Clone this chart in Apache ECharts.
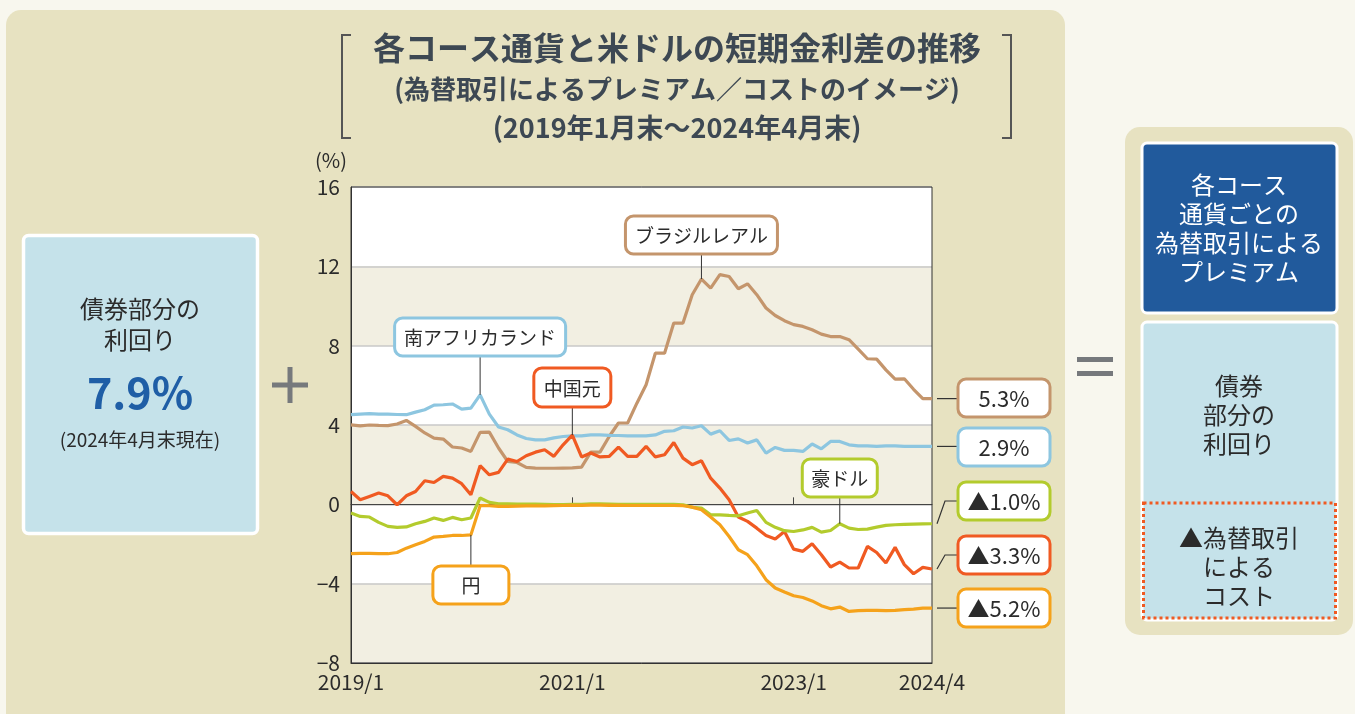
<!DOCTYPE html>
<html><head><meta charset="utf-8">
<script src="https://cdn.jsdelivr.net/npm/echarts@6/dist/echarts.min.js"></script>
<style>html,body{margin:0;padding:0;background:#f8f7ee}#c{width:1355px;height:714px}</style>
</head><body><div id="c"></div>
<script>
// ---------- data ----------
const months = [];
for (let y = 2019; y <= 2024; y++) for (let m = 1; m <= 12; m++) { if (y === 2024 && m > 4) break; months.push(y + '/' + m); }
const tickLabels = ['2019/1', '2021/1', '2023/1', '2024/4'];
const zeroTickLabels = ['2021/1', '2023/1'];
const yMin = -8, yMax = 16, yStep = 4;

const brazil = [4.01,3.96,4.0,3.98,3.97,4.05,4.23,3.93,3.6,3.34,3.29,2.89,2.84,2.67,3.63,3.64,2.84,2.16,2.11,1.86,1.83,1.82,1.82,1.83,1.84,1.88,2.63,2.63,3.42,4.1,4.1,5.1,6.03,7.62,7.62,9.14,9.14,10.57,11.36,10.9,11.58,11.49,10.87,11.12,10.57,9.9,9.52,9.26,9.06,8.97,8.8,8.58,8.46,8.46,8.3,7.83,7.34,7.32,6.78,6.31,6.33,5.8,5.33,5.33];
const southAfrica = [4.52,4.55,4.57,4.55,4.55,4.53,4.52,4.65,4.77,5.0,5.02,5.06,4.8,4.85,5.52,4.55,3.9,3.76,3.5,3.32,3.25,3.25,3.35,3.42,3.45,3.45,3.5,3.5,3.48,3.47,3.45,3.45,3.45,3.5,3.68,3.71,3.9,3.85,3.96,3.54,3.71,3.22,3.3,3.09,3.25,2.58,2.87,2.72,2.72,2.67,3.04,2.8,3.17,3.17,3.0,2.95,2.95,2.92,2.95,2.95,2.92,2.92,2.92,2.92];
const china = [0.65,0.23,0.4,0.57,0.43,-0.02,0.43,0.65,1.19,1.1,1.41,1.32,1.04,0.48,1.95,1.49,1.61,2.28,2.16,2.45,2.63,2.75,2.42,3.0,3.49,2.39,2.59,2.39,2.42,2.89,2.42,2.42,2.92,2.39,2.5,3.12,2.33,2.0,2.2,1.32,0.82,0.23,-0.64,-0.86,-1.2,-1.57,-1.75,-1.37,-2.26,-2.37,-1.99,-2.54,-3.16,-2.91,-3.21,-3.21,-2.12,-2.43,-2.96,-2.17,-3.04,-3.5,-3.18,-3.26];
const australia = [-0.44,-0.61,-0.64,-0.91,-1.11,-1.16,-1.14,-0.98,-0.86,-0.69,-0.81,-0.66,-0.78,-0.69,0.32,0.1,0.02,0.02,0.01,0.01,0.01,0.0,-0.01,-0.01,0.0,0.0,0.02,0.02,0.01,0.0,0.0,0.0,0.0,0.0,0.0,0.0,-0.02,-0.15,-0.19,-0.53,-0.53,-0.56,-0.58,-0.44,-0.31,-0.91,-1.16,-1.33,-1.37,-1.29,-1.16,-1.4,-1.32,-0.98,-1.2,-1.27,-1.25,-1.15,-1.06,-1.03,-1.01,-1.0,-0.99,-0.98];
const japan = [-2.49,-2.47,-2.47,-2.49,-2.49,-2.43,-2.21,-2.04,-1.87,-1.65,-1.62,-1.57,-1.57,-1.54,-0.07,-0.07,-0.1,-0.1,-0.09,-0.08,-0.08,-0.08,-0.07,-0.06,-0.05,-0.05,-0.04,-0.04,-0.05,-0.05,-0.06,-0.06,-0.06,-0.06,-0.06,-0.06,-0.07,-0.14,-0.27,-0.64,-1.03,-1.62,-2.29,-2.54,-3.1,-3.8,-4.22,-4.42,-4.61,-4.7,-4.87,-5.11,-5.27,-5.18,-5.4,-5.36,-5.35,-5.35,-5.36,-5.35,-5.31,-5.28,-5.23,-5.23];

const seriesNames = ['ブラジルレアル', '南アフリカランド', '中国元', '豪ドル', '円'];
const seriesData = [brazil, southAfrica, china, australia, japan];
const endLabels = ['5.3%', '2.9%', '▲3.3%', '▲1.0%', '▲5.2%'];
const calloutIndex = [38, 14, 24, 53, 13];

// ---------- styles / layout ----------
const colors = ['#c4956c', '#8dc6e0', '#f05a22', '#b3cb2d', '#f5a21b'];
const FONT = '"Noto Sans CJK JP", "Noto Sans", sans-serif';
const TXT = '#2b2b2b';
const calloutLayout = [
  { y: 216, w: 152, h: 38, above: true },
  { y: 318, w: 171, h: 38, above: true },
  { y: 368, w: 77, h: 39, above: true },
  { y: 459, w: 75, h: 38, above: true },
  { y: 566, w: 76, h: 38, above: false }
];
const endBoxX = 958, endBoxW = 92, endBoxH = 38;
const endBoxCY = [398, 447, 555, 501, 608];

const chart = echarts.init(document.getElementById('c'), null, { renderer: 'canvas' });

const option = {
  backgroundColor: '#f8f7ee',
  animation: false,
  grid: { left: 351, top: 187, width: 581, height: 476, show: true, borderColor: '#333', borderWidth: 1, backgroundColor: 'transparent', z: 1 },
  xAxis: [
    {
      type: 'category', data: months, boundaryGap: false,
      axisLine: { onZero: false, lineStyle: { color: '#333', width: 1 } },
      axisTick: { show: false },
      axisLabel: { interval: (i, v) => tickLabels.includes(v), fontSize: 21, color: TXT, margin: 9, fontFamily: FONT },
      splitLine: { show: false }
    },
    {
      type: 'category', data: months, boundaryGap: false, position: 'bottom',
      axisLine: { onZero: true, lineStyle: { color: '#444', width: 1 } },
      axisTick: { show: true, inside: true, length: 7, interval: (i, v) => zeroTickLabels.includes(v), lineStyle: { color: '#444' } },
      axisLabel: { show: false },
      splitLine: { show: false }
    }
  ],
  yAxis: {
    type: 'value', min: yMin, max: yMax, interval: yStep,
    axisLine: { show: true, lineStyle: { color: '#333' } },
    axisTick: { show: false },
    axisLabel: { fontSize: 21, color: TXT, margin: 11, fontFamily: FONT, formatter: v => (v < 0 ? '\u2212' + Math.abs(v) : String(v)) },
    splitLine: { lineStyle: { color: '#c9c9c9', width: 1.5 } },
    splitArea: { show: true, areaStyle: { color: ['#f2efe2', '#ffffff'] } }
  },
  series: seriesData.map((d, i) => ({
    name: seriesNames[i], type: 'line', data: d, showSymbol: false, symbol: 'none',
    lineStyle: { color: colors[i], width: 3.2 }, itemStyle: { color: colors[i] }, z: 3 + i
  }))
};
chart.setOption(option);

const px = (i, v) => chart.convertToPixel({ xAxisIndex: 0, yAxisIndex: 0 }, [i, v]);

const g = [];
function rect(x, y, w, h, r, fill, stroke, lw, z, dash) {
  g.push({ type: 'rect', z: z || 0, silent: true, shape: { x, y, width: w, height: h, r }, style: { fill, stroke: stroke || null, lineWidth: lw || 0, lineDash: dash || null } });
}
function text(t, x, y, size, color, weight, align) {
  g.push({ type: 'text', z: 20, silent: true, style: { text: t, x, y, fill: color, font: (weight || 'normal') + ' ' + size + 'px ' + FONT, textAlign: align || 'center', textVerticalAlign: 'middle' } });
}
function poly(points, color, lw, z) {
  g.push({ type: 'polyline', z: z || 15, silent: true, shape: { points }, style: { stroke: color, lineWidth: lw, fill: null } });
}

// backgrounds
rect(6, 10, 1059, 730, 15, '#e7e2c1', null, 0, -10);
rect(1125, 127, 228, 508, 15, '#e7e2c1', null, 0, -10);

// left box
rect(23.5, 235.5, 234, 298, 5, '#c5e2ea', '#ffffff', 3.5, -5);
text('債券部分の', 140, 309, 24, TXT);
text('利回り', 140, 340, 24, TXT);
text('7.9%', 140, 393, 43, '#1f5ea6', 'bold');
text('(2024年4月末現在)', 140, 440, 19, TXT);

// plus
rect(272, 382.5, 36, 5, 0, '#76797c', null, 0, 5);
rect(287.5, 367, 5, 36, 0, '#76797c', null, 0, 5);

// equals
rect(1077, 357, 36, 5, 0, '#76797c', null, 0, 5);
rect(1077, 371, 36, 5, 0, '#76797c', null, 0, 5);

// right panel boxes
rect(1142, 143, 195, 170, 5, '#215a9c', '#ffffff', 3, -5);
['各コース', '通貨ごとの', '為替取引による', 'プレミアム'].forEach((t, k) => text(t, 1239, 185 + k * 29, 24, '#ffffff'));
rect(1142, 322, 195, 298, 5, '#c5e2ea', '#ffffff', 3, -5);
['債券', '部分の', '利回り'].forEach((t, k) => text(t, 1239, 386 + k * 29, 24, TXT));
rect(1143.5, 503, 192, 115, 0, null, '#f05a22', 3, 6, [3, 3]);
['▲為替取引', 'による', 'コスト'].forEach((t, k) => text(t, 1239, 538 + k * 29, 24, TXT));

// title with brackets
poly([[351, 35], [342, 35], [342, 138], [351, 138]], '#555', 2);
poly([[1002, 35], [1011, 35], [1011, 138], [1002, 138]], '#555', 2);
text('各コース通貨と米ドルの短期金利差の推移', 677, 48, 32, '#3d4853', 'bold');
text('(為替取引によるプレミアム／コストのイメージ)', 677, 89, 26, '#3d4853', 'bold');
text('(2019年1月末〜2024年4月末)', 677, 128, 27, '#3d4853', 'bold');

// axis unit
text('(%)', 331, 160, 20, TXT);

// callouts
seriesData.forEach((d, i) => {
  const idx = calloutIndex[i];
  const [ax, ay] = px(idx, d[idx]);
  const L = calloutLayout[i];
  const bx = ax - L.w / 2;
  const ly = L.above ? L.y + L.h : L.y;
  poly([[ax, ly], [ax, ay]], '#333', 1, 8);
  rect(bx, L.y, L.w, L.h, 8, '#ffffff', colors[i], 3, 12);
  text(seriesNames[i], ax, L.y + L.h / 2 + 1, 19, TXT);
});

// end labels
seriesData.forEach((d, i) => {
  const [ex, ey] = px(d.length - 1, d[d.length - 1]);
  const cy = endBoxCY[i];
  const sx = ex + 5;
  if (Math.abs(cy - ey) < 4) poly([[sx, ey], [endBoxX, ey]], '#333', 1.2, 8);
  else poly([[sx, ey], [sx + 8, cy], [endBoxX, cy]], '#333', 1.2, 8);
  rect(endBoxX, cy - endBoxH / 2, endBoxW, endBoxH, 8, '#ffffff', colors[i], 3, 12);
  text(endLabels[i], endBoxX + endBoxW / 2, cy + 1, 22, TXT);
});

chart.setOption({ graphic: { elements: g } });
</script>
</body></html>
